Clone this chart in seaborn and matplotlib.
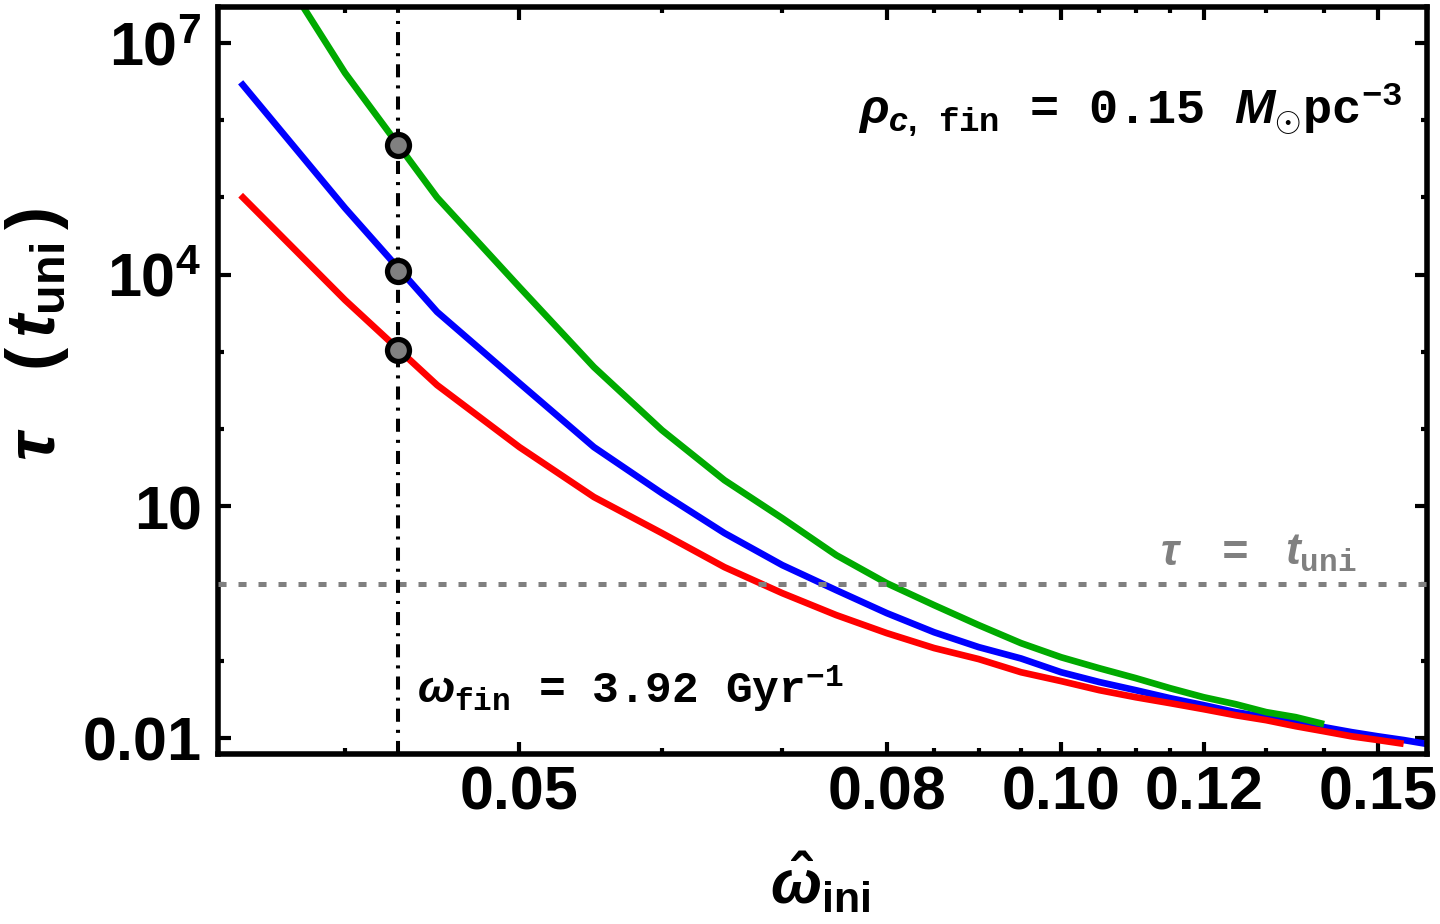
import pandas as pd
import seaborn as sns
import matplotlib.pyplot as plt
from matplotlib import font_manager
from matplotlib.ticker import NullFormatter

# Initial frequency grid (hat omega_ini)
omega_ini = [0.035, 0.04, 0.045, 0.05, 0.055, 0.06, 0.065, 0.07, 0.075, 0.08,
             0.085, 0.09, 0.095, 0.10, 0.105, 0.11, 0.115, 0.12, 0.125, 0.13,
             0.135, 0.14, 0.145, 0.15, 0.155, 0.16]

# Timescale tau in units of t_uni
tau_green = [5.6e8, 4.1e6, 1.0e5, 6.9e3, 636, 97, 21.8, 7.0, 2.33, 1.01,
             0.525, 0.289, 0.169, 0.111, 0.080, 0.0596, 0.044, 0.0337, 0.0274,
             0.0216, 0.0186, 0.0151]
tau_blue = [3.1e6, 7.3e4, 3.3e3, 394, 58.5, 14.8, 4.5, 1.73, 0.82, 0.414,
            0.234, 0.150, 0.107, 0.071, 0.053, 0.0416, 0.0327, 0.0266, 0.0216,
            0.0186, 0.0156, 0.0138, 0.0119, 0.0105, 0.0094, 0.0083]
tau_red = [1.07e5, 4.7e3, 372, 58.5, 13.2, 4.5, 1.63, 0.75, 0.39, 0.228,
           0.146, 0.105, 0.071, 0.0545, 0.0416, 0.0337, 0.0282, 0.0236, 0.0197,
           0.0170, 0.0142, 0.0122, 0.0105, 0.0094, 0.0084]

# Reference values
omega_fin_hat = 0.0428
tau_uni = 1.0
marker_tau = [4.8e5, 1.1e4, 1.05e3]

# Ticks
x_major = [0.05, 0.08, 0.10, 0.12, 0.15]
x_major_labels = ["0.05", "0.08", "0.10", "0.12", "0.15"]
x_minor = [0.04, 0.06, 0.07, 0.085, 0.09, 0.095, 0.105, 0.11, 0.115, 0.13, 0.14]
y_major = [0.01, 10, 1e4, 1e7]
y_major_labels = [r"$0.01$", r"$10$", r"$10^{4}$", r"$10^{7}$"]
y_minor = [0.1, 1, 100, 1000, 1e5, 1e6]

# Long-form table for seaborn
curves = {"blue": tau_blue, "red": tau_red, "green": tau_green}
df = pd.concat([
    pd.DataFrame({"omega_ini": omega_ini[:len(tau)], "tau": tau, "curve": name})
    for name, tau in curves.items()
])
palette = {"blue": "#0000ff", "red": "#ff0000", "green": "#00aa00"}

sns.set_theme(style="ticks")

installed = {f.name for f in font_manager.fontManager.ttflist}
sans = "Liberation Sans Narrow" if "Liberation Sans Narrow" in installed else "Liberation Sans"
mono = "Liberation Mono"

plt.rcParams["font.family"] = [sans, "DejaVu Sans"]
plt.rcParams["font.weight"] = "bold"
plt.rcParams["text.color"] = "black"
plt.rcParams["axes.labelcolor"] = "black"
plt.rcParams["xtick.color"] = "black"
plt.rcParams["ytick.color"] = "black"
plt.rcParams["mathtext.fontset"] = "custom"
plt.rcParams["mathtext.rm"] = f"{sans}:bold"
plt.rcParams["mathtext.bf"] = f"{sans}:bold"
plt.rcParams["mathtext.sf"] = f"{sans}:bold"
plt.rcParams["mathtext.it"] = f"{sans}:italic:bold"
plt.rcParams["mathtext.tt"] = f"{mono}:bold"
plt.rcParams["lines.scale_dashes"] = False

fig, ax = plt.subplots(figsize=(14.4, 9.24), dpi=100)
fig.subplots_adjust(left=218 / 1440, right=1427 / 1440, bottom=1 - 754 / 924, top=1 - 7 / 924)

ax.set_xscale("log")
ax.set_yscale("log")
ax.set_xlim(0.0340, 0.1597)
ax.set_ylim(0.0062, 2.93e7)

sns.lineplot(data=df, x="omega_ini", y="tau", hue="curve",
             hue_order=["blue", "red", "green"], palette=palette,
             estimator=None, sort=False, linewidth=4.8, legend=False,
             solid_capstyle="butt", ax=ax, zorder=2)

# tau = t_uni and omega_fin guide lines
ax.axhline(tau_uni, color="#808080", linewidth=3.6,
           linestyle=(0, (5.8, 8.6)), zorder=3)
ax.axvline(omega_fin_hat, color="black", linewidth=2.9,
           linestyle=(0, (9.4, 5.8, 2.2, 5.8)), zorder=3)

sns.scatterplot(x=[omega_fin_hat] * 3, y=marker_tau, s=250, color="#808080",
                edgecolor="black", linewidth=3.8, ax=ax, zorder=5, legend=False)

# Frame and ticks
for sp in ax.spines.values():
    sp.set_linewidth(4)
    sp.set_color("black")
ax.set_xticks(x_major)
ax.set_xticklabels(x_major_labels)
ax.set_xticks(x_minor, minor=True)
ax.xaxis.set_minor_formatter(NullFormatter())
ax.set_yticks(y_major)
ax.set_yticklabels(y_major_labels)
ax.set_yticks(y_minor, minor=True)
ax.yaxis.set_minor_formatter(NullFormatter())
ax.tick_params(which="both", direction="in", top=True, right=True,
               width=3, color="black", labelcolor="black", labelsize=44)
ax.tick_params(which="major", length=9)
ax.tick_params(which="minor", length=4.5)
ax.tick_params(axis="x", pad=8)
ax.tick_params(axis="y", pad=12)
ax.grid(False)

ax.set_xlabel(r"$\hat{\omega}_{\mathrm{ini}}$", fontsize=44)
ax.set_ylabel(r"$\tau\ \ \ (\,t_{\mathrm{uni}}\,)$", fontsize=50)
ax.xaxis.set_label_coords(0.498, -0.13)
ax.yaxis.set_label_coords(-0.122, 0.562)

# Annotations
ax.text(0.529, 0.845,
        r"$\rho_{c,\ \,\mathtt{fin}}$ = 0.15 $M_{\odot}$pc$^{\mathtt{-3}}$",
        transform=ax.transAxes, fontsize=35, family=mono, weight="bold",
        va="baseline", ha="left")
ax.text(0.165, 0.068, r"$\omega_{\mathtt{fin}}$ = 3.92 Gyr$^{\mathtt{-1}}$",
        transform=ax.transAxes, fontsize=32, family=mono, weight="bold",
        va="baseline", ha="left")
for xpos, piece in [(0.779, r"$\tau$"), (0.830, "="), (0.8826, r"$t_{\mathtt{uni}}$")]:
    ax.text(xpos, 0.253, piece, color="#808080", transform=ax.transAxes,
            fontsize=32, family=mono, weight="bold", va="baseline", ha="left")

fig.savefig("out.png", dpi=100)
